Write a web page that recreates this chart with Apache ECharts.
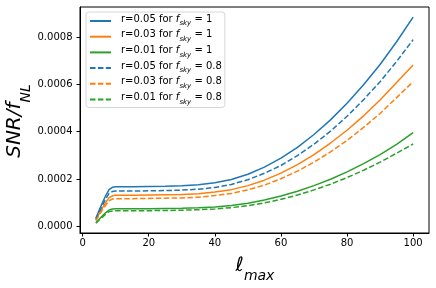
<!DOCTYPE html>
<html><head><meta charset="utf-8">
<script src="https://cdn.jsdelivr.net/npm/echarts@6/dist/echarts.min.js"></script>
<style>html,body{margin:0;padding:0;background:#fff}#c{width:436px;height:288px}</style>
</head><body><div id="c"></div>
<script>
const ell = [4,5,6,7,8,9,10,15,20,25,30,35,40,45,50,55,60,65,70,75,80,85,90,95,100];
const r005_fsky1  = [34e-6,68e-6,100e-6,130e-6,155e-6,165e-6,167e-6,167e-6,168e-6,169e-6,171e-6,176e-6,184e-6,198e-6,220e-6,250e-6,288e-6,334e-6,388e-6,450e-6,520e-6,598e-6,684e-6,780e-6,884e-6];
const r003_fsky1  = [27e-6,53e-6,78e-6,101e-6,121e-6,129e-6,131e-6,131e-6,132e-6,133e-6,134e-6,138e-6,145e-6,155e-6,172e-6,195e-6,225e-6,261e-6,303e-6,352e-6,406e-6,467e-6,534e-6,608e-6,682e-6];
const r001_fsky1  = [15e-6,30e-6,44e-6,58e-6,69e-6,73e-6,74e-6,74e-6,74e-6,75e-6,76e-6,78e-6,82e-6,88e-6,97e-6,111e-6,128e-6,148e-6,172e-6,199e-6,230e-6,265e-6,303e-6,346e-6,396e-6];
const r005_fsky08 = [30e-6,61e-6,89e-6,116e-6,139e-6,147e-6,149e-6,149e-6,150e-6,151e-6,153e-6,157e-6,164e-6,177e-6,197e-6,224e-6,257e-6,299e-6,347e-6,402e-6,465e-6,535e-6,611e-6,697e-6,789e-6];
const r003_fsky08 = [24e-6,47e-6,70e-6,90e-6,108e-6,115e-6,117e-6,117e-6,118e-6,119e-6,120e-6,123e-6,130e-6,139e-6,154e-6,174e-6,201e-6,233e-6,271e-6,315e-6,363e-6,418e-6,477e-6,544e-6,611e-6];
const r001_fsky08 = [13e-6,27e-6,39e-6,52e-6,62e-6,65e-6,66e-6,66e-6,66e-6,67e-6,68e-6,70e-6,73e-6,79e-6,87e-6,99e-6,114e-6,132e-6,154e-6,178e-6,206e-6,237e-6,271e-6,309e-6,348e-6];
const rValues = ['0.05','0.03','0.01','0.05','0.03','0.01'];
const fskyValues = ['1','1','1','0.8','0.8','0.8'];
const xTicks = [0,20,40,60,80,100];
const yTicks = [0,0.0002,0.0004,0.0006,0.0008];

const seriesData = [r005_fsky1, r003_fsky1, r001_fsky1, r005_fsky08, r003_fsky08, r001_fsky08];
const colors = ['#1f77b4','#ff7f0e','#2ca02c','#1f77b4','#ff7f0e','#2ca02c'];
const FONT = 'DejaVu Sans';

const series = seriesData.map((vals, i) => ({
  name: 'r=' + rValues[i] + ' for fsky=' + fskyValues[i],
  type: 'line',
  data: ell.map((x, j) => [x, vals[j]]),
  showSymbol: false,
  symbol: 'none',
  smooth: false,
  lineStyle: { color: colors[i], width: 1.5, type: i < 3 ? 'solid' : [5.5, 2.4] },
  itemStyle: { color: colors[i] },
  animation: false
}));

const chart = echarts.init(document.getElementById('c'));
chart.setOption({
  animation: false,
  grid: { left: 80, right: 7, top: 7, bottom: 55, show: true, borderColor: '#000', borderWidth: 1, backgroundColor: 'transparent' },
  xAxis: {
    type: 'value', min: -0.8, max: 104.8,
    splitLine: { show: false },
    axisLine: { show: true, onZero: false, lineStyle: { color: '#000', width: 1 } },
    axisTick: { show: true, inside: false, length: 3.5, lineStyle: { color: '#000', width: 1 }, customValues: xTicks },
    axisLabel: { customValues: xTicks, color: '#000', fontFamily: FONT, fontSize: 10, margin: 5 }
  },
  yAxis: {
    type: 'value', min: -0.0000283, max: 0.000927,
    splitLine: { show: false },
    axisLine: { show: true, onZero: false, lineStyle: { color: '#000', width: 1 } },
    axisTick: { show: true, inside: false, length: 3.5, lineStyle: { color: '#000', width: 1 }, customValues: yTicks },
    axisLabel: { customValues: yTicks, color: '#000', fontFamily: FONT, fontSize: 10, margin: 7.5,
      formatter: v => v.toFixed(4) }
  },
  legend: {
    orient: 'vertical', left: 86, top: 12,
    padding: [2, 3, 2, 3],
    itemWidth: 21, itemHeight: 14, itemGap: 2.7,
    backgroundColor: 'rgba(255,255,255,0.8)',
    borderColor: '#d6d6d6', borderWidth: 1, borderRadius: 3,
    itemStyle: { color: 'rgba(0,0,0,0)', borderColor: 'rgba(0,0,0,0)', borderWidth: 0, opacity: 0 },
    data: series.map(s => s.name),
    formatter: function (name) {
      const i = series.findIndex(s => s.name === name);
      return '{n|r=' + rValues[i] + ' for }{i|f}{s|sky}{n| = ' + fskyValues[i] + '}';
    },
    textStyle: {
      fontFamily: FONT, fontSize: 10, color: '#000', padding: [0, 0, 0, 5],
      rich: {
        n: { fontFamily: FONT, fontSize: 10, lineHeight: 14, verticalAlign: 'top', color: '#000' },
        i: { fontFamily: FONT, fontSize: 10, fontStyle: 'italic', lineHeight: 14, verticalAlign: 'top', color: '#000' },
        s: { fontFamily: FONT, fontSize: 7, fontStyle: 'italic', lineHeight: 7, padding: [6, 0, 0, 0], verticalAlign: 'top', color: '#000' }
      }
    }
  },
  graphic: [
    {
      type: 'text', x: 17, y: 121, rotation: Math.PI / 2,
      style: {
        text: '{a|SNR/f}{b|NL}',
        align: 'center', verticalAlign: 'middle',
        rich: {
          a: { fontFamily: FONT, fontSize: 20, fontStyle: 'italic', lineHeight: 24, verticalAlign: 'top', fill: '#000' },
          b: { fontFamily: FONT, fontSize: 14, fontStyle: 'italic', lineHeight: 14, padding: [14, 0, 0, 0], verticalAlign: 'top', fill: '#000' }
        }
      }
    },
    {
      type: 'text', x: 255, y: 268,
      style: {
        text: '{a|\u2113}{b|max}',
        align: 'center', verticalAlign: 'middle',
        rich: {
          a: { fontFamily: FONT, fontSize: 20, fontStyle: 'italic', lineHeight: 24, verticalAlign: 'top', fill: '#000' },
          b: { fontFamily: FONT, fontSize: 14, fontStyle: 'italic', lineHeight: 14, padding: [13, 0, 0, 0], verticalAlign: 'top', fill: '#000' }
        }
      }
    }
  ],
  series: series
});
</script></body></html>
